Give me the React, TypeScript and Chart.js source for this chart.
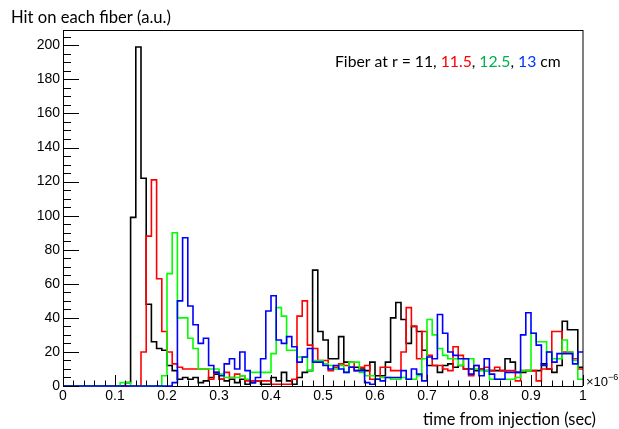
import React, { useEffect, useRef } from "react";
import { Chart, registerables } from "chart.js";

Chart.register(...registerables);

// ---- data (hits per 0.01 µs bin, 100 bins from 0 to 1 ×10^-6 s) ----
const BIN_START = 0;
const BIN_END = 1;
const BIN_COUNT = 100;

const fiber11: number[] = [
  0, 0, 0, 0, 0, 0, 0, 0, 0, 0,
  0, 0, 2, 99, 199, 122, 48, 26, 22, 21,
  12, 9, 4, 5, 4, 5, 2, 3, 5, 7,
  4, 3, 4, 2, 4, 1, 2, 3, 1, 1,
  5, 3, 8, 3, 1, 5, 8, 9, 68, 32,
  27, 16, 16, 29, 14, 11, 11, 10, 9, 14,
  6, 6, 14, 40, 49, 39, 25, 35, 32, 21,
  12, 12, 8, 12, 13, 11, 12, 10, 10, 9,
  10, 9, 9, 9, 9, 16, 14, 8, 8, 9,
  9, 9, 13, 10, 8, 12, 38, 33, 33, 11,
];

const fiber115: number[] = [
  0, 0, 0, 0, 0, 0, 0, 0, 0, 0,
  0, 0, 0, 0, 0, 20, 88, 121, 63, 32,
  20, 13, 11, 10, 10, 10, 10, 10, 4, 8,
  4, 8, 5, 7, 6, 3, 3, 3, 3, 3,
  1, 1, 1, 1, 4, 41, 50, 24, 22, 15,
  15, 9, 11, 13, 12, 14, 9, 11, 12, 4,
  4, 11, 11, 9, 9, 20, 46, 35, 16, 32,
  18, 12, 12, 10, 9, 23, 18, 10, 6, 12,
  10, 11, 9, 11, 9, 9, 9, 3, 9, 9,
  9, 3, 10, 10, 32, 32, 20, 20, 16, 10,
];

const fiber125: number[] = [
  0, 0, 0, 0, 0, 0, 0, 0, 0, 0,
  0, 2, 2, 0, 0, 0, 0, 0, 0, 6,
  66, 90, 40, 40, 28, 22, 10, 10, 10, 10,
  7, 5, 5, 5, 6, 4, 8, 8, 8, 8,
  19, 46, 41, 21, 21, 17, 17, 9, 15, 15,
  13, 12, 10, 12, 8, 14, 14, 8, 6, 6,
  4, 5, 5, 4, 4, 5, 4, 4, 6, 16,
  39, 30, 22, 18, 16, 16, 12, 16, 16, 10,
  9, 9, 4, 4, 4, 4, 4, 5, 9, 9,
  31, 26, 26, 20, 16, 16, 27, 20, 15, 4,
];

const fiber13: number[] = [
  0, 0, 0, 0, 0, 0, 0, 0, 0, 0,
  0, 0, 0, 0, 0, 0, 0, 0, 0, 0,
  0, 2, 50, 87, 47, 36, 25, 28, 12, 8,
  6, 13, 16, 10, 20, 9, 2, 5, 16, 44,
  53, 27, 25, 29, 23, 14, 17, 22, 14, 14,
  12, 10, 12, 10, 8, 11, 9, 9, 2, 1,
  4, 3, 5, 5, 5, 9, 4, 10, 7, 3,
  17, 16, 42, 31, 20, 18, 16, 16, 7, 12,
  6, 16, 7, 4, 4, 8, 8, 8, 30, 43,
  31, 24, 12, 20, 14, 19, 19, 19, 13, 20,
];

const xTickValues = [0, 0.1, 0.2, 0.3, 0.4, 0.5, 0.6, 0.7, 0.8, 0.9, 1];
const xTickLabels = ["0", "0.1", "0.2", "0.3", "0.4", "0.5", "0.6", "0.7", "0.8", "0.9", "1"];
const yTickValues = [0, 20, 40, 60, 80, 100, 120, 140, 160, 180, 200];
const Y_MAX = 209;

const yTitle = "Hit on each fiber (a.u.)";
const xTitle = "time from injection (sec)";
const legendParts = [
  { text: "Fiber at r = 11, ", color: "#000000" },
  { text: "11.5", color: "#ff0000" },
  { text: ", ", color: "#000000" },
  { text: "12.5", color: "#00b050" },
  { text: ", ", color: "#000000" },
  { text: "13", color: "#0033ff" },
  { text: " cm", color: "#000000" },
];

function toSteps(values: number[]) {
  const w = (BIN_END - BIN_START) / BIN_COUNT;
  const pts = values.map((v, i) => ({ x: BIN_START + i * w, y: v }));
  pts.push({ x: BIN_END, y: values[values.length - 1] });
  return pts;
}

const TITLE_FONT = "Lato, 'Open Sans', sans-serif";
const NUM_FONT = "'Liberation Sans', Arial, sans-serif";

function fitSize(ctx: CanvasRenderingContext2D, text: string, family: string, width: number) {
  ctx.font = `20px ${family}`;
  const w = ctx.measureText(text).width;
  return (20 * width) / w;
}

const rootAxesPlugin = {
  id: "rootAxes",
  beforeDatasetsDraw(chart: any) {
    const { ctx, chartArea } = chart;
    const { left, right, top, bottom } = chartArea;
    ctx.save();
    ctx.strokeStyle = "#000";
    ctx.lineWidth = 1;
    ctx.beginPath();
    ctx.moveTo(left + 0.5, top);
    ctx.lineTo(left + 0.5, bottom + 1);
    ctx.moveTo(left, bottom + 0.5);
    ctx.lineTo(right, bottom + 0.5);
    ctx.stroke();
    ctx.restore();
  },
  afterDatasetsDraw(chart: any) {
    const { ctx, chartArea, scales } = chart;
    const { left, right, top, bottom } = chartArea;
    const xs = scales.x;
    const ys = scales.y;
    ctx.save();
    ctx.strokeStyle = "#000";
    ctx.lineWidth = 1;

    // frame
    ctx.beginPath();
    ctx.moveTo(left, top + 0.5);
    ctx.lineTo(right, top + 0.5);
    ctx.moveTo(right, top);
    ctx.lineTo(right, bottom);
    ctx.moveTo(left + 0.5, top);
    ctx.lineTo(left + 0.5, bottom);
    ctx.stroke();

    // y ticks (major every 20, minor every 5)
    ctx.beginPath();
    for (let v = 0; v <= Y_MAX; v += 5) {
      const py = Math.round(ys.getPixelForValue(v)) + 0.5;
      const len = v % 20 === 0 ? 16 : 8;
      ctx.moveTo(left, py);
      ctx.lineTo(left + len, py);
    }
    // x ticks (major every 0.1, minor every 0.02)
    for (let k = 0; k <= 50; k++) {
      const v = k * 0.02;
      const px = Math.round(xs.getPixelForValue(v)) + 0.5;
      const len = k % 5 === 0 ? 11 : 5.5;
      ctx.moveTo(px, bottom);
      ctx.lineTo(px, bottom - len);
    }
    ctx.stroke();

    // tick labels
    ctx.fillStyle = "#000";
    ctx.font = `14px ${NUM_FONT}`;
    ctx.textAlign = "right";
    ctx.textBaseline = "middle";
    yTickValues.forEach((v) => {
      ctx.fillText(String(v), left - 3, ys.getPixelForValue(v));
    });
    ctx.textAlign = "center";
    ctx.textBaseline = "top";
    xTickValues.forEach((v, i) => {
      ctx.fillText(xTickLabels[i], xs.getPixelForValue(v), bottom + 3);
    });

    // exponent
    ctx.textAlign = "left";
    ctx.textBaseline = "alphabetic";
    ctx.font = `13px ${NUM_FONT}`;
    ctx.fillText("\u00d710", right + 3, bottom);
    const wx = ctx.measureText("\u00d710").width;
    ctx.font = `9px ${NUM_FONT}`;
    ctx.fillText("\u22126", right + 3 + wx, bottom - 6);

    // axis titles
    let s = fitSize(ctx, yTitle, TITLE_FONT, 160);
    ctx.font = `${s}px ${TITLE_FONT}`;
    ctx.textAlign = "left";
    ctx.textBaseline = "middle";
    ctx.fillText(yTitle, 11, 18);

    s = fitSize(ctx, xTitle, TITLE_FONT, 173);
    ctx.font = `${s}px ${TITLE_FONT}`;
    ctx.textAlign = "right";
    ctx.fillText(xTitle, 596, 420);

    // legend text
    const full = legendParts.map((p) => p.text).join("");
    s = fitSize(ctx, full, TITLE_FONT, 226);
    ctx.font = `${s}px ${TITLE_FONT}`;
    ctx.textAlign = "left";
    let cx = 335;
    legendParts.forEach((p) => {
      ctx.fillStyle = p.color;
      ctx.fillText(p.text, cx, 62);
      cx += ctx.measureText(p.text).width;
    });
    ctx.restore();
  },
};

export default function App() {
  const ref = useRef<HTMLCanvasElement | null>(null);
  useEffect(() => {
    if (!ref.current) return;
    const ds = (label: string, values: number[], color: string, order: number) => ({
      label,
      data: toSteps(values),
      borderColor: color,
      backgroundColor: color,
      borderWidth: 1.6,
      pointRadius: 0,
      stepped: true as const,
      fill: false,
      order,
      clip: 3,
    });
    const chart = new Chart(ref.current, {
      type: "line",
      data: {
        datasets: [
          ds("r = 11 cm", fiber11, "#000000", 3),
          ds("r = 11.5 cm", fiber115, "#ff0000", 2),
          ds("r = 12.5 cm", fiber125, "#00ff00", 1),
          ds("r = 13 cm", fiber13, "#0000ff", 0),
        ],
      },
      options: {
        animation: false,
        responsive: false,
        devicePixelRatio: 1,
        layout: { padding: { left: 63, right: 36, top: 30, bottom: 43 } },
        scales: {
          x: { type: "linear", min: BIN_START, max: BIN_END, display: false },
          y: { type: "linear", min: 0, max: Y_MAX, display: false },
        },
        plugins: { legend: { display: false }, tooltip: { enabled: false } },
      },
      plugins: [rootAxesPlugin],
    });
    return () => chart.destroy();
  }, []);
  return (
    <div style={{ position: "absolute", left: 0, top: 0, width: 619, height: 429, background: "#fff" }}>
      <canvas ref={ref} width={619} height={429} style={{ width: 619, height: 429 }} />
    </div>
  );
}
